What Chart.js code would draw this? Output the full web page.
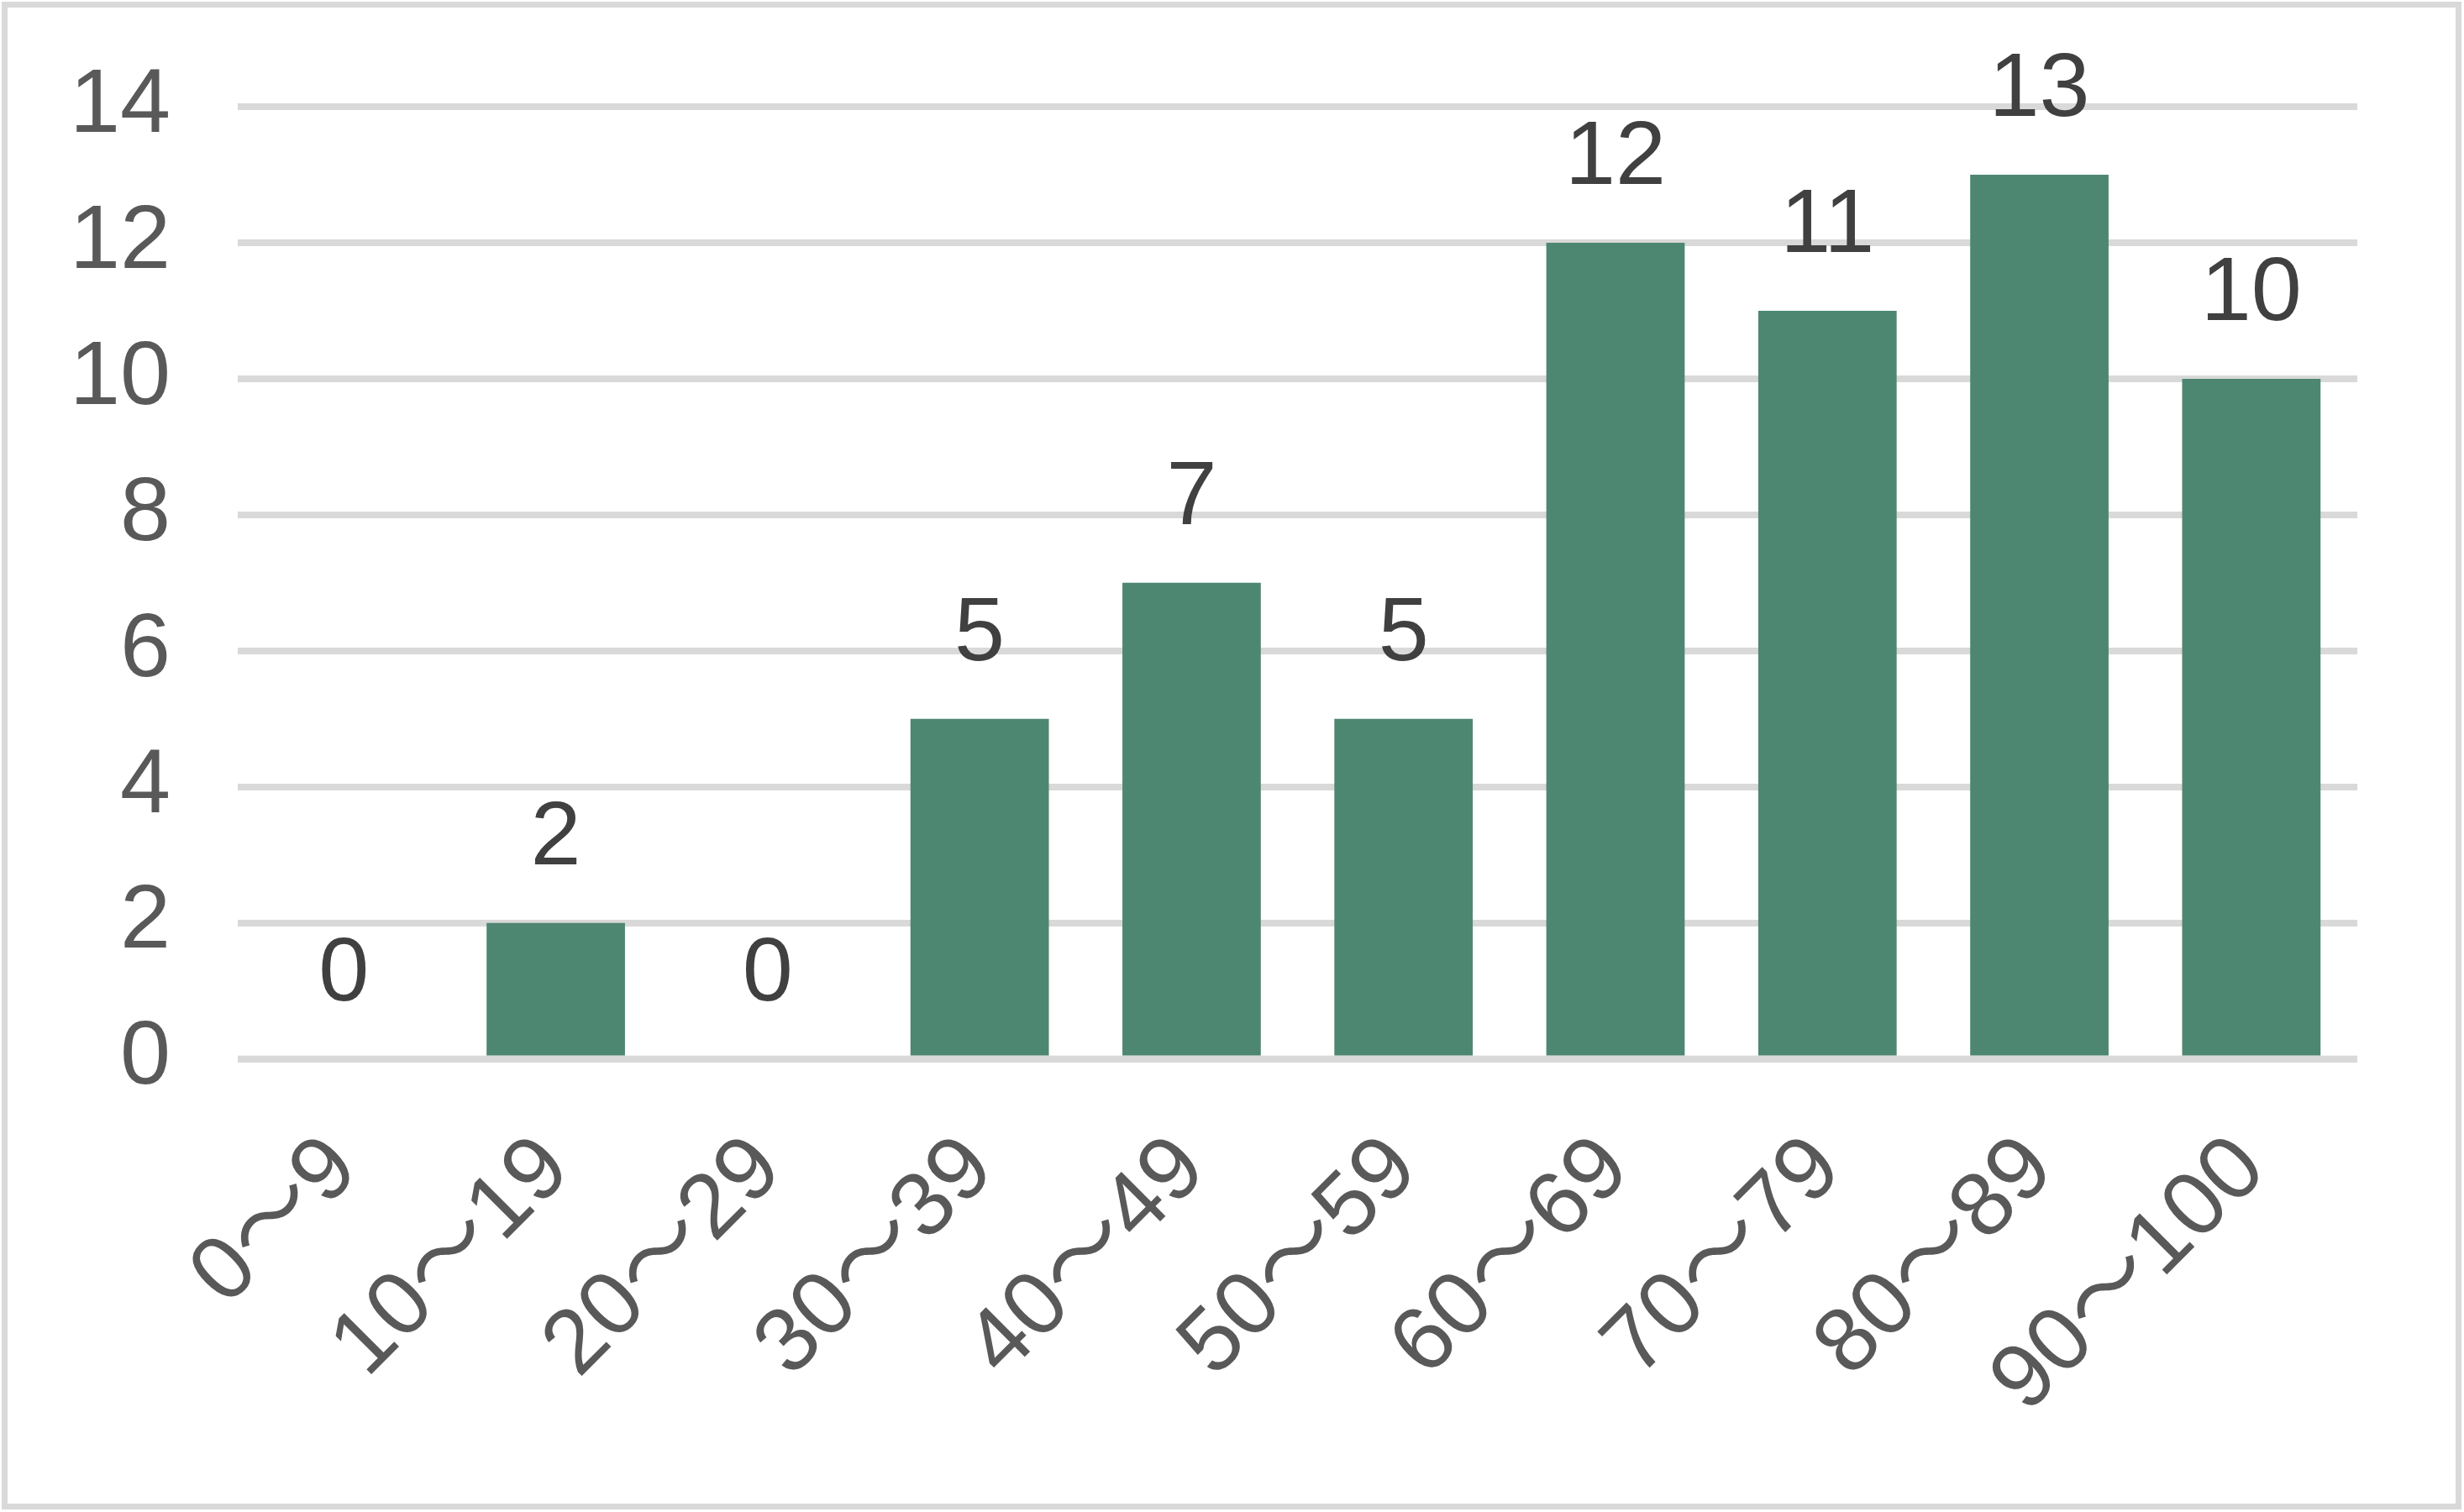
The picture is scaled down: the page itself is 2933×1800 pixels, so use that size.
<!DOCTYPE html>
<html>
<head>
<meta charset="utf-8">
<script src="https://cdn.jsdelivr.net/npm/chart.js@4.4.1/dist/chart.umd.min.js"></script>
<style>
  html, body { margin: 0; padding: 0; background: #fff; }
  canvas { display: block; }
</style>
</head>
<body>
<canvas id="myChart" width="2933" height="1800"></canvas>
<script>
const ranges = ['0〜9', '10〜19', '20〜29', '30〜39', '40〜49', '50〜59', '60〜69', '70〜79', '80〜89', '90〜100'];
const counts = [0, 2, 0, 5, 7, 5, 12, 11, 13, 10];
const yTicks = [0, 2, 4, 6, 8, 10, 12, 14];

const fontFamily = '"Liberation Sans", "Noto Sans CJK JP", sans-serif';

// grey frame around the whole picture
const frame = {
  id: 'frame',
  beforeDraw(chart) {
    const ctx = chart.ctx;
    ctx.save();
    ctx.fillStyle = '#ffffff';
    ctx.fillRect(0, 0, chart.width, chart.height);
    ctx.strokeStyle = '#d9d9d9';
    ctx.lineWidth = 7;
    ctx.strokeRect(5.5, 5.5, chart.width - 12, chart.height - 12);
    ctx.restore();
  }
};

// numbers above the bars + zero line on top of bars
const valueLabels = {
  id: 'valueLabels',
  afterDatasetsDraw(chart) {
    const ctx = chart.ctx;
    const y = chart.scales.y;
    const area = chart.chartArea;
    ctx.save();
    const y0 = y.getPixelForValue(0);
    ctx.fillStyle = '#d9d9d9';
    ctx.fillRect(area.left, y0 - 4, area.right - area.left, 8);
    ctx.font = '108px ' + fontFamily;
    ctx.fillStyle = '#404040';
    ctx.textAlign = 'center';
    ctx.textBaseline = 'alphabetic';
    chart.getDatasetMeta(0).data.forEach((bar, i) => {
      ctx.fillText(String(counts[i]), bar.x, bar.y - 70);
    });
    ctx.restore();
  }
};

const ctx = document.getElementById('myChart').getContext('2d');

const myChart = new Chart(ctx, {
  type: 'bar',
  data: {
    labels: ranges,
    datasets: [{
      data: counts,
      backgroundColor: '#4e8771',
      borderWidth: 0,
      categoryPercentage: 1,
      barPercentage: 0.653
    }]
  },
  options: {
    responsive: false,
    animation: false,
    devicePixelRatio: 1,
    layout: {
      padding: { left: 3, right: 127, top: 127, bottom: 31 }
    },
    plugins: {
      legend: { display: false },
      tooltip: { enabled: false }
    },
    scales: {
      x: {
        grid: { display: false },
        border: { display: false },
        afterFit(scale) {
          scale.paddingLeft = 0;
          scale.paddingRight = 0;
        },
        ticks: {
          color: '#595959',
          font: { family: fontFamily, size: 108 },
          minRotation: 45,
          maxRotation: 45,
          padding: 60
        }
      },
      y: {
        min: 0,
        max: 14,
        afterBuildTicks(scale) {
          scale.ticks = yTicks.map(v => ({ value: v }));
        },
        afterFit(scale) {
          scale.paddingTop = 0;
          scale.paddingBottom = 0;
        },
        grid: { color: '#d9d9d9', lineWidth: 8, drawTicks: false },
        border: { display: false },
        ticks: {
          color: '#595959',
          font: { family: fontFamily, size: 108 },
          padding: 80
        }
      }
    }
  },
  plugins: [frame, valueLabels]
});
</script>
</body>
</html>
